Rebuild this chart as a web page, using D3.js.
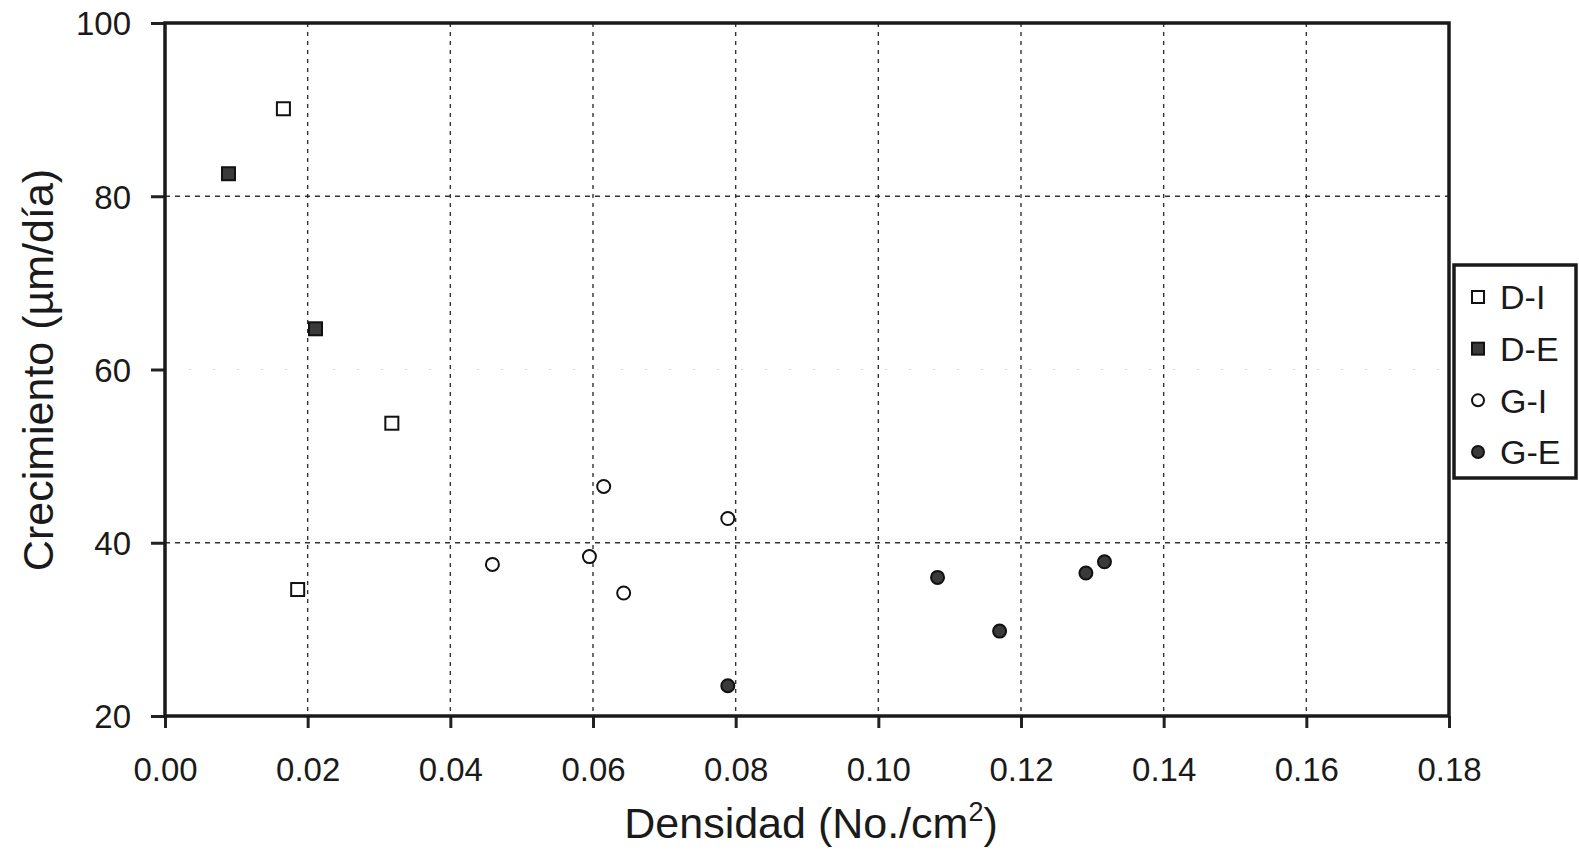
<!DOCTYPE html>
<html><head><meta charset="utf-8">
<script src="https://cdn.jsdelivr.net/npm/d3@7"></script>
<style>
html,body{margin:0;padding:0;background:#fff;}
text{font-family:"Liberation Sans",Arial,sans-serif;fill:#1a1a1a;}
</style></head>
<body>
<svg id="c" width="1579" height="857"></svg>
<script>
// ---- data ----
const xTicks = [0.00,0.02,0.04,0.06,0.08,0.10,0.12,0.14,0.16,0.18];
const yTicks = [20,40,60,80,100];
const seriesNames = ["D-I","D-E","G-I","G-E"];
const diX = [0.0166, 0.0318, 0.0186];
const diY = [90.1, 53.8, 34.6];
const deX = [0.0089, 0.0211];
const deY = [82.6, 64.7];
const giX = [0.0459, 0.0595, 0.0615, 0.0643, 0.0789];
const giY = [37.5, 38.4, 46.5, 34.2, 42.8];
const geX = [0.0789, 0.1083, 0.1170, 0.1291, 0.1317];
const geY = [23.5, 36.0, 29.8, 36.5, 37.8];
const xTitle = "Densidad (No./cm";
const yTitle = "Crecimiento (µm/día)";

const svg = d3.select("#c");
const L=165, R=1449, T=23, B=716;
const x = d3.scaleLinear().domain([0,0.18]).range([L,R]);
const y = d3.scaleLinear().domain([20,100]).range([B,T]);

// gridlines
const g = svg.append("g");
g.selectAll("line.vg").data(xTicks.filter(d=>d>0 && d<0.18)).enter().append("line")
  .attr("x1",d=>x(d)).attr("x2",d=>x(d)).attr("y1",T).attr("y2",B)
  .attr("stroke","#333").attr("stroke-width",1.4).attr("stroke-dasharray","4,5");
g.selectAll("line.hg").data(yTicks.filter(d=>d>20 && d<100)).enter().append("line")
  .attr("x1",L).attr("x2",R).attr("y1",d=>y(d)).attr("y2",d=>y(d))
  .attr("stroke",d=>d===60?"#d8d8d8":"#333")
  .attr("stroke-width",d=>d===60?1.2:1.5)
  .attr("stroke-dasharray",d=>d===60?"2,22":"5,5");

// axes
const xAxis = d3.axisBottom(x).tickValues(xTicks).tickFormat(d3.format(".2f")).tickSize(12).tickPadding(30);
const yAxis = d3.axisLeft(y).tickValues(yTicks).tickFormat(d3.format("d")).tickSize(14).tickPadding(20);
const gx = svg.append("g").attr("transform",`translate(0,${B})`).call(xAxis);
const gy = svg.append("g").attr("transform",`translate(${L},0)`).call(yAxis);
[gx,gy].forEach(a=>{
  a.select(".domain").remove();
  a.selectAll(".tick line").attr("stroke","#222").attr("stroke-width",3);
  a.selectAll(".tick text").attr("font-size",33).attr("fill","#1a1a1a")
   .style("font-family","'Liberation Sans',Arial,sans-serif");
});
gy.selectAll(".tick text").attr("dy","0.36em");

// frame
svg.append("rect").attr("x",L).attr("y",T).attr("width",R-L).attr("height",B-T)
  .attr("fill","none").attr("stroke","#1a1a1a").attr("stroke-width",3.5);

// marks
const sqSize = 13;
function squares(xs,ys,fill){
  svg.append("g").selectAll("rect").data(xs.map((v,i)=>[v,ys[i]])).enter().append("rect")
    .attr("x",d=>x(d[0])-sqSize/2).attr("y",d=>y(d[1])-sqSize/2)
    .attr("width",sqSize).attr("height",sqSize)
    .attr("fill",fill).attr("stroke","#111").attr("stroke-width",2);
}
function circles(xs,ys,fill){
  svg.append("g").selectAll("circle").data(xs.map((v,i)=>[v,ys[i]])).enter().append("circle")
    .attr("cx",d=>x(d[0])).attr("cy",d=>y(d[1])).attr("r",6.5)
    .attr("fill",fill).attr("stroke","#111").attr("stroke-width",2);
}
squares(diX,diY,"#fff");
squares(deX,deY,"#3a3a3a");
circles(giX,giY,"#fff");
circles(geX,geY,"#3a3a3a");

// titles
const xt = svg.append("text").attr("x",811).attr("y",838).attr("text-anchor","middle")
  .attr("font-size",43).text(xTitle);
xt.append("tspan").attr("dy",-17).attr("font-size",27).text("2");
xt.append("tspan").attr("dy",17).text(")");
svg.append("text").attr("transform","translate(53,370) rotate(-90)").attr("text-anchor","middle")
  .attr("font-size",43).text(yTitle);

// legend
const lg = svg.append("g");
lg.append("rect").attr("x",1454).attr("y",265).attr("width",122).attr("height",213)
  .attr("fill","#fff").attr("stroke","#1a1a1a").attr("stroke-width",3.5);
const rowY = d3.scalePoint().domain(seriesNames).range([297,452]);
seriesNames.forEach((n,i)=>{
  const cy = rowY(n), cx = 1478;
  if(i<2){
    lg.append("rect").attr("x",cx-6).attr("y",cy-6).attr("width",12).attr("height",12)
      .attr("fill",i===0?"#fff":"#3a3a3a").attr("stroke","#111").attr("stroke-width",2);
  } else {
    lg.append("circle").attr("cx",cx).attr("cy",cy).attr("r",6)
      .attr("fill",i===2?"#fff":"#3a3a3a").attr("stroke","#111").attr("stroke-width",2);
  }
  lg.append("text").attr("x",1500).attr("y",cy).attr("dy","0.36em").attr("font-size",34).text(n);
});
</script>
</body></html>
